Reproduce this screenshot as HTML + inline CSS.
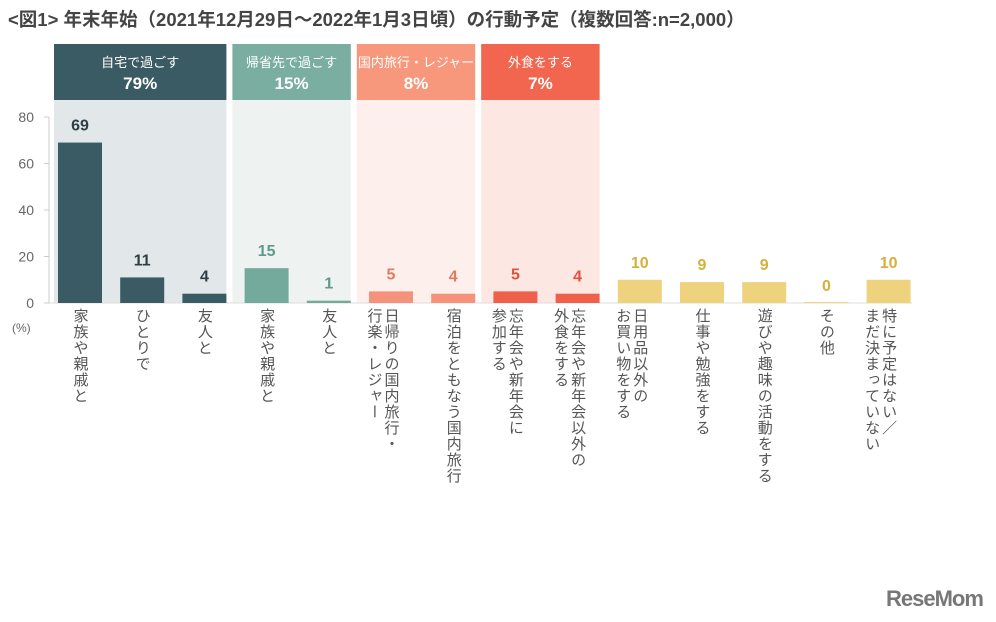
<!DOCTYPE html>
<html><head><meta charset="utf-8">
<style>
body{margin:0;width:996px;height:622px;background:#fff;position:relative;overflow:hidden;font-family:"Liberation Sans","Noto Sans CJK JP",sans-serif}
svg text{font-family:"Liberation Sans","Noto Sans CJK JP",sans-serif}
.lbl{position:absolute;top:308px;writing-mode:vertical-rl;font-size:15px;line-height:17px;color:#555;letter-spacing:1px;white-space:pre}
</style></head><body>
<div style="position:absolute;left:8px;top:6px;font-size:18.5px;font-weight:bold;color:#444;white-space:nowrap">&lt;図1&gt; 年末年始（2021年12月29日～2022年1月3日頃）の行動予定（複数回答:n=2,000）</div>
<svg id="chart" width="996" height="622" style="position:absolute;left:0;top:0"></svg>
<div style="position:absolute;left:886px;top:586px;font-size:22px;font-weight:bold;color:#777;letter-spacing:-1px">ReseMom</div>
<script>
const categories=["家族や親戚と","ひとりで","友人と","家族や親戚と","友人と","日帰りの国内旅行・\n行楽・レジャー","宿泊をともなう国内旅行","忘年会や新年会に\n参加する","忘年会や新年会以外の\n外食をする","日用品以外の\nお買い物をする","仕事や勉強をする","遊びや趣味の活動をする","その他","特に予定はない／\nまだ決まっていない"];
const values=[69,11,4,15,1,5,4,5,4,10,9,9,0,10];
const groupIdx=[0,0,0,1,1,2,2,3,3,4,4,4,4,4];
const groupNames=["自宅で過ごす","帰省先で過ごす","国内旅行・レジャー","外食をする"];
const groupPct=["79%","15%","8%","7%"];
const yTicks=[0,20,40,60,80];
const barCol=["#3a5a64","#74aa9b","#f4927b","#ee5f4c","#efd27e"];
const valCol=["#2f3e45","#5d9a8b","#e07b60","#e0503d","#d4b03c"];
const hdrCol=["#3b5b64","#7aaea0","#f7977b","#f2654f"];
const bgCol=["#e2e7e9","#eef3f2","#fdefeb","#fde7e3"];
const ns="http://www.w3.org/2000/svg";
const svg=document.getElementById('chart');
const y0=303,yTop=117,yMax=80;
const y=v=>y0-(v/yMax)*(y0-yTop);
const x=i=>80+i*62.2;
const bw=44;
function el(t,a,txt){const e=document.createElementNS(ns,t);for(const k in a)e.setAttribute(k,a[k]);if(txt!==undefined)e.textContent=txt;svg.appendChild(e);return e;}
let prevEnd=null;
for(let g=0;g<groupNames.length;g++){
  const idx=groupIdx.map((v,i)=>v===g?i:-1).filter(i=>i>=0);
  const x1=prevEnd===null?x(idx[0])-bw/2-4:prevEnd+6;
  const x2=x(idx[idx.length-1])+bw/2;
  prevEnd=x2;
  const bg=el('rect',{x:x1,y:44,width:x2-x1,height:y0-44,fill:bgCol[g]});
  
  
  const h=el('rect',{x:x1,y:44,width:x2-x1,height:56,fill:hdrCol[g]});
  
  
  const t1=el('text',{x:(x1+x2)/2,y:67,'text-anchor':'middle','font-size':13,fill:'#fff'},groupNames[g]);
  
  
  const t2=el('text',{x:(x1+x2)/2,y:89,'text-anchor':'middle','font-size':17,'font-weight':'bold',fill:'#fff'},groupPct[g]);
  
  
}
const ax=el('line',{x1:49,y1:yTop,x2:49,y2:y0,stroke:'#ccc'});


const bx=el('line',{x1:49,y1:y0,x2:912,y2:y0,stroke:'#ddd'});


yTicks.forEach(t=>{
  el('line',{x1:44,y1:y(t),x2:49,y2:y(t),stroke:'#ccc'});
  const tt=el('text',{x:34,y:y(t)+5,'text-anchor':'end','font-size':14,fill:'#666'},t);
  
  
});
const u=el('text',{x:12,y:332,'font-size':12,fill:'#666'},'(%)');


values.forEach((v,i)=>{
  const g=groupIdx[i];
  const h=Math.max(y0-y(v),v===0?1:0);
  const r=el('rect',{x:x(i)-bw/2,y:y0-h,width:bw,height:h,fill:barCol[g]});
  
  
  const t=el('text',{x:x(i),y:y(v)-12,'text-anchor':'middle','font-size':16,'font-weight':'bold',fill:valCol[g]},v);
  
  
  const d=document.createElement('div');
  d.className='lbl';
  d.textContent=categories[i];
  const lines=categories[i].split('\n').length;
  d.style.left=(x(i)+8.5-lines*17)+'px';
  
  
  document.body.appendChild(d);
});
</script>
</body></html>
